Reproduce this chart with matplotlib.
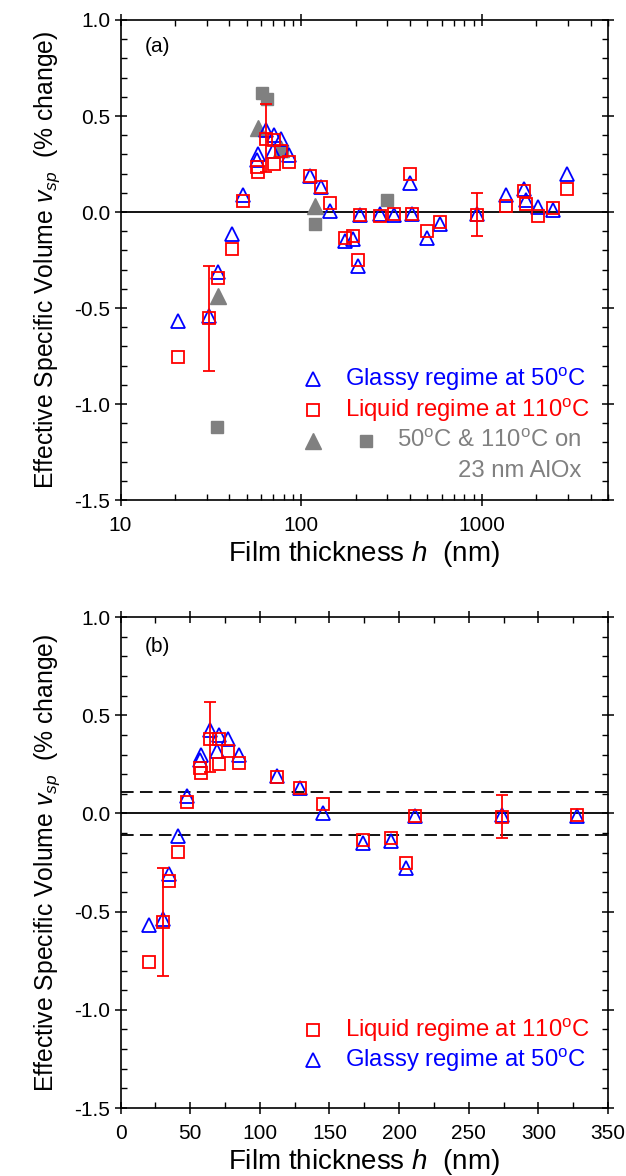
import matplotlib
matplotlib.use("Agg")
import matplotlib.pyplot as plt
import numpy as np
from matplotlib.ticker import MultipleLocator, LogLocator, NullFormatter, FixedLocator

plt.rcParams['font.family'] = ['Liberation Sans', 'DejaVu Sans']
plt.rcParams['mathtext.fontset'] = 'custom'
plt.rcParams['mathtext.rm'] = 'Liberation Sans'
plt.rcParams['mathtext.it'] = 'Liberation Sans:italic'

# ---------------- data ----------------
h_glassy = [20.7, 30.7, 34.8, 41.5, 47.5, 57, 57.5, 64.2, 69.5, 70.9, 77.4, 85.3,
            112, 129, 145, 174, 194, 205, 211.5, 274, 327.5,
            400, 412, 497, 590, 940, 1360, 1700, 1750, 2050, 2480, 2950]
v_glassy = [-0.57, -0.54, -0.31, -0.115, 0.088, 0.27, 0.30, 0.427, 0.317, 0.40, 0.38, 0.297,
            0.19, 0.13, 0.003, -0.15, -0.14, -0.28, -0.014, -0.01, -0.014,
            0.15, -0.01, -0.135, -0.06, -0.01, 0.09, 0.12, 0.065, 0.025, 0.01, 0.20]

h_liquid = [20.7, 30.7, 34.8, 41.5, 47.5, 57, 57.5, 64.2, 70.7, 70.9, 77.4, 85.3,
            112, 129, 145, 174, 194, 205, 211.5, 274, 327.5,
            400, 412, 497, 590, 940, 1360, 1700, 1750, 2050, 2480, 2950]
v_liquid = [-0.757, -0.553, -0.345, -0.195, 0.059, 0.232, 0.207, 0.38, 0.252, 0.377, 0.317, 0.258,
            0.185, 0.13, 0.046, -0.136, -0.124, -0.25, -0.014, -0.02, -0.01,
            0.20, -0.01, -0.10, -0.05, -0.014, 0.03, 0.11, 0.04, -0.02, 0.02, 0.12]

# error bars (liquid regime) : h, centre, lower, upper
err_a_h = [30.7, 64.2, 940]
err_a_v = [-0.553, 0.38, -0.014]
err_a_lo = [-0.83, 0.21, -0.127]
err_a_hi = [-0.28, 0.565, 0.10]

err_b_h = [30.7, 64.2, 274]
err_b_v = [-0.553, 0.38, -0.014]
err_b_lo = [-0.83, 0.21, -0.124]
err_b_hi = [-0.28, 0.565, 0.093]

# AlOx substrate (grey)
alox_tri_h = [34.5, 58, 77, 120]
alox_tri_v = [-0.44, 0.44, 0.33, 0.03]
alox_sq_h = [34, 61, 65, 78, 120, 297]
alox_sq_v = [-1.12, 0.62, 0.59, 0.32, -0.06, 0.06]

band = 0.11  # dashed band in panel (b)

# ---------------- style ----------------
BLUE = '#0000ff'
RED = '#ff0000'
GREY = '#808080'
TICKFS = 15
XLABFS = 20
YLABFS = 17.8
LEGFS = 17.2

fig = plt.figure(figsize=(6.26, 11.76), dpi=100)
ax_a = fig.add_axes([0.1925, 0.5748, 0.779, 0.4082])
ax_b = fig.add_axes([0.1925, 0.0578, 0.779, 0.4175])

def style(ax):
    for s in ax.spines.values():
        s.set_linewidth(1.2)
        s.set_color('black')
    ax.tick_params(which='major', direction='inout', length=9, width=1.1,
                   labelsize=TICKFS, right=True, top=True, pad=3)
    ax.tick_params(which='minor', direction='in', length=4.5, width=1.0,
                   right=True, top=True)
    ax.tick_params(axis='x', which='major', pad=7)
    ax.set_ylim(-1.5, 1.0)
    ax.yaxis.set_major_locator(MultipleLocator(0.5))
    ax.yaxis.set_minor_locator(MultipleLocator(0.1))
    ax.yaxis.set_major_formatter(matplotlib.ticker.FormatStrFormatter('%.1f'))
    ax.set_ylabel(r'Effective Specific Volume $v_{sp}$  (% change)', fontsize=YLABFS, labelpad=9)
    ax.set_xlabel(r'Film thickness $h$  (nm)', fontsize=XLABFS, labelpad=3)

def draw(ax, mask_max, eh, ev, elo, ehi):
    hg = np.array(h_glassy); vg = np.array(v_glassy)
    hl = np.array(h_liquid); vl = np.array(v_liquid)
    mg = hg <= mask_max
    ml = hl <= mask_max
    ax.plot(hg[mg], vg[mg], linestyle='none', marker='^', ms=10.5, mfc='none',
            mec=BLUE, mew=1.3, zorder=4)
    ev = np.array(ev); elo = np.array(elo); ehi = np.array(ehi)
    ax.errorbar(eh, ev, yerr=[ev - elo, ehi - ev], fmt='none', ecolor=RED,
                elinewidth=1.3, capsize=4.5, capthick=1.3, zorder=5)
    ax.plot(hl[ml], vl[ml], linestyle='none', marker='s', ms=8.5, mfc='none',
            mec=RED, mew=1.3, zorder=6)

# ---------------- panel (a) ----------------
style(ax_a)
ax_a.set_xscale('log')
ax_a.set_xlim(10, 5000)
ax_a.xaxis.set_major_locator(FixedLocator([10, 100, 1000]))
ax_a.xaxis.set_major_formatter(matplotlib.ticker.FuncFormatter(lambda x, p: '%d' % x))
ax_a.xaxis.set_minor_locator(LogLocator(base=10, subs=np.arange(2, 10)))
ax_a.xaxis.set_minor_formatter(NullFormatter())
ax_a.axhline(0, color='black', lw=1.3, zorder=2)
ax_a.plot(alox_tri_h, alox_tri_v, linestyle='none', marker='^', ms=11, color=GREY, mec=GREY, zorder=3)
ax_a.plot(alox_sq_h, alox_sq_v, linestyle='none', marker='s', ms=9, color=GREY, mec=GREY, zorder=3)
draw(ax_a, 1e9, err_a_h, err_a_v, err_a_lo, err_a_hi)
ax_a.text(0.05, 0.944, '(a)', transform=ax_a.transAxes, fontsize=15, va='center', ha='left')

T = ax_a.transAxes
ax_a.plot([0.395], [0.252], transform=T, marker='^', ms=10.5, mfc='none', mec=BLUE, mew=1.3, clip_on=False)
ax_a.text(0.46, 0.252, r'Glassy regime at 50$^{\rm o}$C', transform=T, color=BLUE,
          fontsize=LEGFS, va='center', ha='left')
ax_a.plot([0.395], [0.1875], transform=T, marker='s', ms=8.5, mfc='none', mec=RED, mew=1.3, clip_on=False)
ax_a.text(0.46, 0.1875, r'Liquid regime at 110$^{\rm o}$C', transform=T, color=RED,
          fontsize=LEGFS, va='center', ha='left')
ax_a.plot([0.395], [0.123], transform=T, marker='^', ms=11, color=GREY, mec=GREY, clip_on=False)
ax_a.plot([0.504], [0.123], transform=T, marker='s', ms=9, color=GREY, mec=GREY, clip_on=False)
ax_a.text(0.945, 0.123, r'50$^{\rm o}$C & 110$^{\rm o}$C on', transform=T, color=GREY,
          fontsize=LEGFS, va='center', ha='right')
ax_a.text(0.945, 0.06, '23 nm AlOx', transform=T, color=GREY,
          fontsize=LEGFS, va='center', ha='right')

# ---------------- panel (b) ----------------
style(ax_b)
ax_b.set_xlim(0, 350)
ax_b.xaxis.set_major_locator(MultipleLocator(50))
ax_b.xaxis.set_minor_locator(MultipleLocator(25))
ax_b.axhline(0, color='black', lw=1.3, zorder=2)
ax_b.axhline(band, color='black', lw=1.3, ls=(0, (7, 3.5)), zorder=2)
ax_b.axhline(-band, color='black', lw=1.3, ls=(0, (7, 3.5)), zorder=2)
draw(ax_b, 350, err_b_h, err_b_v, err_b_lo, err_b_hi)
ax_b.text(0.05, 0.939, '(b)', transform=ax_b.transAxes, fontsize=15, va='center', ha='left')

T = ax_b.transAxes
ax_b.plot([0.395], [0.1585], transform=T, marker='s', ms=8.5, mfc='none', mec=RED, mew=1.3, clip_on=False)
ax_b.text(0.46, 0.1585, r'Liquid regime at 110$^{\rm o}$C', transform=T, color=RED,
          fontsize=LEGFS, va='center', ha='left')
ax_b.plot([0.395], [0.0976], transform=T, marker='^', ms=10.5, mfc='none', mec=BLUE, mew=1.3, clip_on=False)
ax_b.text(0.46, 0.0976, r'Glassy regime at 50$^{\rm o}$C', transform=T, color=BLUE,
          fontsize=LEGFS, va='center', ha='left')

fig.savefig('out.png', dpi=100)
